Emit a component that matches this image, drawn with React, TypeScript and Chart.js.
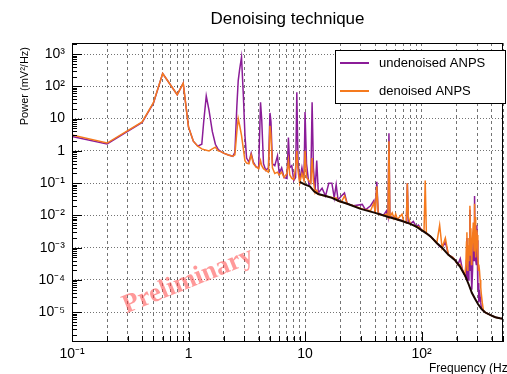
import { useEffect, useRef } from 'react';
import { Chart, registerables } from 'chart.js';

Chart.register(...registerables);

const TITLE = 'Denoising technique';
const X_TITLE = 'Frequency (Hz)';
const Y_TITLE = 'Power (mV²/Hz)';
const SERIES_NAMES = ['undenoised ANPS', 'denoised ANPS'];
const WATERMARK = 'Preliminary';

const FREQ = [
  0.1, 0.2, 0.4, 0.5, 0.6, 0.8, 0.9, 1.0, 1.1, 1.2,
  1.3, 1.35, 1.42, 1.5, 1.6, 1.7, 1.8, 1.9, 2.0, 2.2,
  2.4, 2.5, 2.6, 2.67, 2.75, 2.85, 2.95, 3.05, 3.15, 3.3,
  3.45, 3.6, 3.8, 4.0, 4.15, 4.25, 4.4, 4.6, 4.85, 5.0,
  5.1, 5.25, 5.5, 5.8, 6.0, 6.3, 6.6, 7.0, 7.2, 7.4,
  7.7, 8.0, 8.3, 8.5, 8.7, 9.0, 9.4, 9.8, 10.0, 10.3,
  10.8, 11.2, 11.5, 11.8, 12.2, 12.6, 13.0, 14.0, 15.0, 16.0,
  17.0, 17.8, 18.5, 19.2, 20.5, 21.8, 23, 26, 31, 33,
  36.5, 39, 40, 41.3, 42.5, 47, 50, 51.5, 52.5, 53.5,
  56, 58, 60, 62, 68, 70, 74, 75.5, 77, 80,
  85, 90, 94, 100, 105, 107.5, 110, 120, 135, 143,
  150, 160, 170, 185, 195, 205, 215, 225, 235, 240,
  243, 245, 248, 250, 253, 255, 258, 260, 263, 265,
  268, 270, 274, 278, 282, 285, 288, 290, 293, 295,
  298, 300, 303, 305, 308, 310, 314, 318, 322, 325,
  332, 340, 360, 395, 430, 470, 500,
];

const UNDENOISED = [
  2.8, 1.65, 7.6, 30, 250, 55, 125, 5.5, 2.0, 1.4,
  1.6, 8, 50, 18, 4, 1.6, 1.1, 0.95, 0.85, 0.75,
  0.68, 0.9, 25, 150, 350, 800, 60, 3, 0.6, 0.45,
  0.85, 0.45, 0.32, 0.3, 32, 9, 0.4, 0.25, 0.3, 15,
  8, 0.4, 0.35, 0.7, 0.2, 0.3, 0.15, 0.14, 2.6, 0.3,
  0.35, 0.12, 0.15, 66, 0.5, 0.12, 0.3, 0.12, 16, 0.4,
  0.09, 0.1, 32, 0.3, 0.06, 0.5, 0.05, 0.07, 0.04, 0.1,
  0.1, 0.035, 0.09, 0.03, 0.04, 0.05, 0.023, 0.02, 0.022, 0.015,
  0.02, 0.029, 0.012, 0.11, 0.012, 0.01, 0.014, 0.009, 3.5, 0.009,
  0.009, 0.008, 0.008, 0.0075, 0.007, 0.0065, 0.006, 0.1, 0.006, 0.0055,
  0.0065, 0.0045, 0.005, 0.0035, 0.0032, 0.003, 0.0028, 0.0022, 0.0014, 0.0011,
  0.001, 0.0015, 0.0006, 0.0005, 0.0004, 0.0003, 0.00046, 0.0002, 0.00014, 0.00012,
  0.0004, 0.002, 0.0001, 0.0003, 0.0001, 0.0005, 0.0008, 0.015, 0.0002, 0.0006,
  0.0001, 0.00005, 0.0002, 0.003, 0.0004, 0.04, 0.0009, 0.0008, 0.0004, 0.0003,
  0.005, 0.0017, 0.0002, 0.00005, 0.00008, 0.00002, 0.00005, 0.00003, 0.00002, 0.000015,
  0.000012, 0.000011, 0.0000095, 0.000008, 0.000007, 0.0000065, 0.0000063,
];

const DENOISED = [
  3.1, 1.75, 7.9, 31, 250, 55, 125, 5.5, 2.0, 1.4,
  1.15, 1.1, 1.05, 1.0, 1.15, 1.3, 1.0, 0.95, 0.85, 0.75,
  0.68, 0.75, 4, 10, 6, 3, 1.2, 0.5, 0.42, 0.4,
  0.75, 0.4, 0.32, 0.28, 0.5, 0.35, 0.28, 0.25, 0.22, 6,
  3, 0.3, 0.2, 0.22, 0.18, 0.22, 0.15, 0.2, 0.5, 0.18,
  0.14, 0.13, 0.3, 1.0, 0.25, 0.1, 0.2, 0.12, 1.0, 0.15,
  0.12, 0.1, 0.6, 0.12, 0.05, 0.06, 0.045, 0.042, 0.04, 0.038,
  0.036, 0.034, 0.035, 0.028, 0.026, 0.04, 0.023, 0.02, 0.016, 0.015,
  0.014, 0.025, 0.012, 0.08, 0.011, 0.01, 0.011, 0.009, 2.0, 0.009,
  0.012, 0.008, 0.011, 0.0075, 0.011, 0.0065, 0.006, 0.1, 0.009, 0.0055,
  0.005, 0.0045, 0.0045, 0.0035, 0.0032, 0.12, 0.0028, 0.0022, 0.0014, 0.005,
  0.001, 0.002, 0.0006, 0.0005, 0.0004, 0.0003, 0.0003, 0.0002, 0.00014, 0.0003,
  0.0015, 0.003, 0.0002, 0.0012, 0.0004, 0.002, 0.0006, 0.02, 0.0012, 0.004,
  0.0003, 0.0008, 0.002, 0.006, 0.0008, 0.023, 0.003, 0.009, 0.0005, 0.0015,
  0.0035, 0.0025, 0.0012, 0.0006, 0.0002, 0.0003, 0.0002, 0.0001, 0.00006, 0.00004,
  0.00002, 0.000011, 0.0000095, 0.000008, 0.000007, 0.0000065, 0.0000063,
];

const BASE_FREQ = [
  9, 10, 11, 12, 13, 15, 17, 19.5, 23, 30,
  40, 52, 60, 70, 80, 90, 100, 110, 120, 135,
  150, 170, 195, 215, 238, 255, 270, 290, 305, 325,
  350, 395, 430, 470, 500,
];
const BASE_POWER = [
  0.11, 0.09, 0.08, 0.055, 0.046, 0.04, 0.035, 0.028, 0.023, 0.016,
  0.012, 0.009, 0.0078, 0.0065, 0.0055, 0.0045, 0.0035, 0.0028, 0.0022, 0.0014,
  0.001, 0.0006, 0.0004, 0.00025, 0.00013, 0.00007, 0.00004, 0.000025, 0.000018, 0.000013,
  0.00001, 0.000008, 0.000007, 0.0000065, 0.0000063,
];

const X_MIN = 0.1;
const X_MAX = 500;
const Y_MIN = 1.2e-6;
const Y_MAX = 2200;
const X_MAJOR = [0.1, 1, 10, 100];
const X_LABELS = ['10⁻¹', '1', '10', '10²'];
const Y_MAJOR = [1e-5, 1e-4, 1e-3, 1e-2, 1e-1, 1, 10, 100, 1000];
const Y_LABELS = ['10⁻⁵', '10⁻⁴', '10⁻³', '10⁻²', '10⁻¹', '1', '10', '10²', '10³'];

const PURPLE = '#8b1c98';
const ORANGE = '#f57a1e';
const BLACK = '#1a0800';
const FONT = '"Liberation Sans", Arial, Helvetica, sans-serif';

function multiples(decades: number[], lo: number, hi: number) {
  const out: number[] = [];
  for (const d of decades) {
    for (let k = 1; k <= 9; k++) {
      const v = k * d;
      if (v >= lo * 0.9999 && v <= hi * 1.0001) out.push(v);
    }
  }
  return out;
}

const X_TICKS = multiples([0.1, 1, 10, 100], X_MIN, X_MAX);
const Y_MINOR = multiples([1e-6, 1e-5, 1e-4, 1e-3, 1e-2, 1e-1, 1, 10, 100, 1000], Y_MIN, Y_MAX);

function labelFor(majors: number[], labels: string[], v: number) {
  const i = majors.findIndex((m) => Math.abs(m - v) / m < 1e-6);
  return i >= 0 ? labels[i] : '';
}

const decorPlugin = {
  id: 'decor',
  beforeDatasetsDraw(chart: any) {
    const { ctx } = chart;
    ctx.save();
    ctx.translate(188, 281);
    ctx.rotate((-22 * Math.PI) / 180);
    ctx.font = 'bold 27px "Liberation Serif", "Times New Roman", serif';
    ctx.fillStyle = 'rgba(255, 60, 60, 0.52)';
    ctx.textAlign = 'center';
    ctx.textBaseline = 'middle';
    ctx.fillText(WATERMARK, 0, 0);
    ctx.restore();
  },
  afterDatasetsDraw(chart: any) {
    const { ctx, chartArea } = chart;
    const { left, right, top, bottom } = chartArea;
    const xs = chart.scales.x;
    const ys = chart.scales.y;
    ctx.save();
    ctx.strokeStyle = '#000';
    ctx.lineWidth = 1;
    ctx.beginPath();
    for (const v of Y_MINOR) {
      const y = Math.round(ys.getPixelForValue(v)) + 0.5;
      const major = Y_MAJOR.some((m) => Math.abs(m - v) / m < 1e-6);
      ctx.moveTo(left, y);
      ctx.lineTo(left + (major ? 10 : 5), y);
    }
    for (const v of X_TICKS) {
      const x = Math.round(xs.getPixelForValue(v)) + 0.5;
      const major = X_MAJOR.some((m) => Math.abs(m - v) / m < 1e-6);
      ctx.moveTo(x, bottom);
      ctx.lineTo(x, bottom - (major ? 10 : 6));
    }
    ctx.stroke();
    ctx.strokeRect(Math.round(left) + 0.5, Math.round(top) + 0.5, Math.round(right - left) - 1, Math.round(bottom - top) - 1);

    const lx = 335, ly = 50, lw = 170, lh = 53;
    ctx.fillStyle = '#fff';
    ctx.fillRect(lx, ly, lw, lh);
    ctx.strokeRect(lx + 0.5, ly + 0.5, lw, lh);
    const entries = [
      { name: SERIES_NAMES[0], color: PURPLE, y: 63 },
      { name: SERIES_NAMES[1], color: ORANGE, y: 91 },
    ];
    ctx.font = `13px ${FONT}`;
    ctx.textAlign = 'left';
    ctx.textBaseline = 'middle';
    for (const e of entries) {
      ctx.strokeStyle = e.color;
      ctx.lineWidth = 2;
      ctx.beginPath();
      ctx.moveTo(340, e.y);
      ctx.lineTo(369, e.y);
      ctx.stroke();
      ctx.fillStyle = '#000';
      ctx.fillText(e.name, 379, e.y + 0.5);
    }

    ctx.fillStyle = '#000';
    ctx.font = `17px ${FONT}`;
    ctx.textAlign = 'center';
    ctx.textBaseline = 'alphabetic';
    ctx.fillText(TITLE, (left + right) / 2, 24);

    ctx.font = `12px ${FONT}`;
    ctx.textAlign = 'left';
    ctx.fillText(X_TITLE, 429, 372);

    ctx.save();
    ctx.translate(25, 47);
    ctx.rotate(-Math.PI / 2);
    ctx.font = `11px ${FONT}`;
    ctx.textAlign = 'right';
    ctx.textBaseline = 'middle';
    ctx.fillText(Y_TITLE, 0, 0);
    ctx.restore();
    ctx.restore();
  },
};

export default function App() {
  const ref = useRef<HTMLCanvasElement | null>(null);
  useEffect(() => {
    if (!ref.current) return;
    const chart = new Chart(ref.current, {
      type: 'line',
      data: {
        datasets: [
          {
            label: 'baseline',
            data: BASE_FREQ.map((f, i) => ({ x: f, y: BASE_POWER[i] })),
            borderColor: BLACK,
            borderWidth: 2,
          },
          {
            label: SERIES_NAMES[1],
            data: FREQ.map((f, i) => ({ x: f, y: DENOISED[i] })),
            borderColor: ORANGE,
            borderWidth: 1.5,
          },
          {
            label: SERIES_NAMES[0],
            data: FREQ.map((f, i) => ({ x: f, y: UNDENOISED[i] })),
            borderColor: PURPLE,
            borderWidth: 1.5,
          },
        ],
      },
      options: {
        animation: false,
        responsive: false,
        events: [],
        layout: { padding: { top: 43, right: 2, left: 0, bottom: 0 } },
        elements: { point: { radius: 0 }, line: { tension: 0 } },
        plugins: { legend: { display: false }, title: { display: false }, tooltip: { enabled: false } },
        scales: {
          x: {
            type: 'logarithmic',
            min: X_MIN,
            max: X_MAX,
            afterBuildTicks: (scale: any) => {
              scale.ticks = X_TICKS.map((v) => ({ value: v }));
            },
            afterFit: (scale: any) => {
              scale.height = 32;
            },
            ticks: {
              autoSkip: false,
              maxRotation: 0,
              padding: 4,
              color: '#000',
              font: { family: FONT, size: 14 },
              callback: (v: any) => labelFor(X_MAJOR, X_LABELS, Number(v)),
            },
            grid: { color: 'rgba(0,0,0,0.55)', lineWidth: 1, drawTicks: false },
            border: { display: false, dash: [3, 3] },
          },
          y: {
            type: 'logarithmic',
            min: Y_MIN,
            max: Y_MAX,
            afterBuildTicks: (scale: any) => {
              scale.ticks = Y_MAJOR.map((v) => ({ value: v }));
            },
            afterFit: (scale: any) => {
              scale.width = 72;
            },
            ticks: {
              autoSkip: false,
              padding: 7,
              color: '#000',
              font: { family: FONT, size: 14 },
              callback: (v: any) => labelFor(Y_MAJOR, Y_LABELS, Number(v)),
            },
            grid: { color: 'rgba(0,0,0,0.55)', lineWidth: 1, drawTicks: false },
            border: { display: false, dash: [1, 2] },
          },
        },
      },
      plugins: [decorPlugin],
    } as any);
    return () => chart.destroy();
  }, []);
  return (
    <div style={{ position: 'fixed', left: 0, top: 0, width: 507, height: 374, background: '#fff' }}>
      <canvas ref={ref} width={507} height={374} style={{ display: 'block' }} />
    </div>
  );
}
